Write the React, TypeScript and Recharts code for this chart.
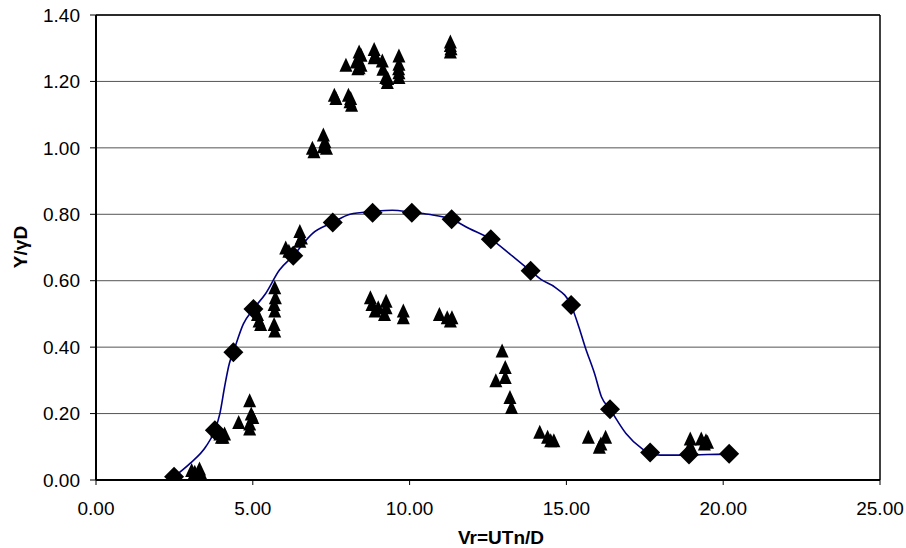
import React from 'react';
import {
  ComposedChart,
  Line,
  Scatter,
  XAxis,
  YAxis,
  CartesianGrid,
  ReferenceLine,
} from 'recharts';

// Fitted curve (blue line)
const curveX = [2.49, 3.0, 3.5, 3.79, 3.95, 4.1, 4.25, 4.38, 4.7, 5.02, 5.4, 5.85, 6.29, 6.9, 7.55, 8.1, 8.82, 9.45, 10.07, 10.6, 11.34, 11.9, 12.59, 13.2, 13.86, 14.2, 14.64, 15.15, 15.4, 15.6, 15.9, 16.12, 16.39, 16.9, 17.4, 17.67, 18.0, 18.91, 19.5, 20.19];
const curveY = [0.01, 0.05, 0.1, 0.15, 0.2, 0.28, 0.35, 0.385, 0.47, 0.515, 0.56, 0.632, 0.675, 0.742, 0.775, 0.8, 0.808, 0.812, 0.806, 0.8, 0.785, 0.757, 0.725, 0.68, 0.629, 0.603, 0.58, 0.526, 0.46, 0.4, 0.32, 0.25, 0.213, 0.14, 0.095, 0.08, 0.075, 0.075, 0.077, 0.078];

// Diamond series
const diamondX = [2.49, 3.79, 4.38, 5.02, 6.29, 7.55, 8.82, 10.07, 11.34, 12.59, 13.86, 15.15, 16.39, 17.67, 18.91, 20.19];
const diamondY = [0.01, 0.15, 0.385, 0.515, 0.675, 0.775, 0.805, 0.805, 0.785, 0.725, 0.63, 0.527, 0.213, 0.083, 0.077, 0.079];

// Triangle series
const triangleX = [
  3.05, 3.1, 3.3, 3.35, 3.2, 3.15,
  3.85, 3.95, 4.0, 4.1, 4.05,
  4.55,
  4.9, 4.95, 5.0, 4.9, 4.9,
  5.15, 5.2, 5.25,
  5.7, 5.72, 5.68, 5.7, 5.68, 5.7,
  6.05, 6.15, 6.5, 6.55, 6.5,
  6.9, 6.95, 7.25, 7.3, 7.35, 7.25,
  7.6, 7.65,
  8.05, 8.1, 8.15, 8.12,
  7.97, 8.39, 8.39, 8.39, 8.3, 8.45, 8.35, 8.45, 8.87, 8.87, 8.9, 9.13, 9.15, 9.24, 9.29, 9.3, 9.66, 9.66, 9.66, 9.66, 9.65,
  11.3, 11.3, 11.32, 11.3,
  8.75, 8.8, 8.9, 9.0, 9.25, 9.25, 9.2, 9.8, 9.8,
  10.95, 11.2, 11.3, 11.35,
  12.95, 13.05, 13.05, 12.75, 13.2, 13.25,
  14.15, 14.4, 14.5, 14.6,
  15.7,
  16.05, 16.1, 16.25,
  18.95, 18.95, 19.3, 19.45, 19.4, 19.5,
];
const triangleY = [
  0.03, 0.015, 0.035, 0.02, 0.01, 0.025,
  0.15, 0.14, 0.13, 0.14, 0.13,
  0.175,
  0.24, 0.2, 0.19, 0.17, 0.155,
  0.5, 0.48, 0.47,
  0.58, 0.55, 0.53, 0.51, 0.47, 0.45,
  0.7, 0.69, 0.75, 0.73, 0.72,
  1.0, 0.99, 1.04, 1.02, 1.0, 1.005,
  1.16, 1.15,
  1.16, 1.14, 1.13, 1.15,
  1.25, 1.29, 1.263, 1.243, 1.26, 1.25, 1.24, 1.28, 1.298, 1.273, 1.28, 1.263, 1.238, 1.213, 1.198, 1.21, 1.278, 1.253, 1.228, 1.213, 1.24,
  1.32, 1.31, 1.3, 1.29,
  0.55, 0.53, 0.51, 0.52, 0.54, 0.52, 0.5, 0.51, 0.49,
  0.5, 0.49, 0.48, 0.49,
  0.39, 0.34, 0.31, 0.3, 0.25, 0.22,
  0.145, 0.13, 0.12, 0.12,
  0.13,
  0.1, 0.11, 0.13,
  0.125, 0.105, 0.125, 0.12, 0.11, 0.115,
];

const xTicks = [0, 5, 10, 15, 20, 25];
const yTicks = [0, 0.2, 0.4, 0.6, 0.8, 1.0, 1.2, 1.4];

const curveData = curveX.map((x, i) => ({ x, y: curveY[i] }));
const diamondData = diamondX.map((x, i) => ({ x, y: diamondY[i] }));
const triangleData = triangleX.map((x, i) => ({ x, y: triangleY[i] }));

const FONT = '"Liberation Sans", Arial, sans-serif';

const Diamond = (props: any) => {
  const { cx, cy } = props;
  if (cx == null || cy == null) return null;
  const r = 10;
  return (
    <polygon
      points={`${cx},${cy - r} ${cx + r},${cy} ${cx},${cy + r} ${cx - r},${cy}`}
      fill="#000"
    />
  );
};

const Triangle = (props: any) => {
  const { cx, cy } = props;
  if (cx == null || cy == null) return null;
  const w = 6.5;
  const h = 7;
  return (
    <polygon
      points={`${cx},${cy - h} ${cx + w},${cy + h} ${cx - w},${cy + h}`}
      fill="#000"
    />
  );
};

export default function App() {
  return (
    <div style={{ position: 'absolute', left: 0, top: 0 }}>
      <ComposedChart
        width={906}
        height={548}
        margin={{ top: 15, right: 26, bottom: 0, left: 0 }}
        style={{ fontFamily: FONT }}
      >
        <CartesianGrid vertical={false} stroke="#555" strokeWidth={1} />
        <XAxis
          type="number"
          dataKey="x"
          domain={[0, 25]}
          ticks={xTicks}
          tickFormatter={(v: number) => v.toFixed(2)}
          height={68}
          axisLine={{ stroke: '#000', strokeWidth: 2 }}
          tickLine={{ stroke: '#000', strokeWidth: 1 }}
          tickSize={5}
          tickMargin={17}
          tick={{ fill: '#000', fontSize: 19, fontFamily: FONT }}
          allowDataOverflow
          label={{
            content: () => (
              <text
                x={501}
                y={544}
                textAnchor="middle"
                fontSize={19}
                fontWeight="bold"
                fontFamily={FONT}
                fill="#000"
              >
                Vr=UTn/D
              </text>
            ),
          }}
        />
        <YAxis
          type="number"
          dataKey="y"
          domain={[0, 1.4]}
          ticks={yTicks}
          tickFormatter={(v: number) => v.toFixed(2)}
          width={96}
          axisLine={{ stroke: '#000', strokeWidth: 2 }}
          tickLine={{ stroke: '#000', strokeWidth: 1 }}
          tickSize={6}
          tickMargin={10}
          tick={{ fill: '#000', fontSize: 19, fontFamily: FONT }}
          allowDataOverflow
          label={{
            content: () => (
              <text
                x={20.5}
                y={247}
                transform="rotate(-90 20.5 247)"
                textAnchor="middle"
                dominantBaseline="central"
                fontSize={19}
                fontWeight="bold"
                fontFamily={FONT}
                fill="#000"
              >
                Y/γD
              </text>
            ),
          }}
        />
        <ReferenceLine y={1.4} stroke="#000" strokeWidth={1.5} />
        <ReferenceLine x={25} stroke="#000" strokeWidth={1.5} />
        <Scatter
          data={triangleData}
          dataKey="y"
          shape={Triangle}
          isAnimationActive={false}
        />
        <Line
          data={curveData}
          dataKey="y"
          type="monotone"
          stroke="#000080"
          strokeWidth={1.6}
          dot={false}
          activeDot={false}
          isAnimationActive={false}
        />
        <Scatter
          data={diamondData}
          dataKey="y"
          shape={Diamond}
          isAnimationActive={false}
        />
      </ComposedChart>
    </div>
  );
}
